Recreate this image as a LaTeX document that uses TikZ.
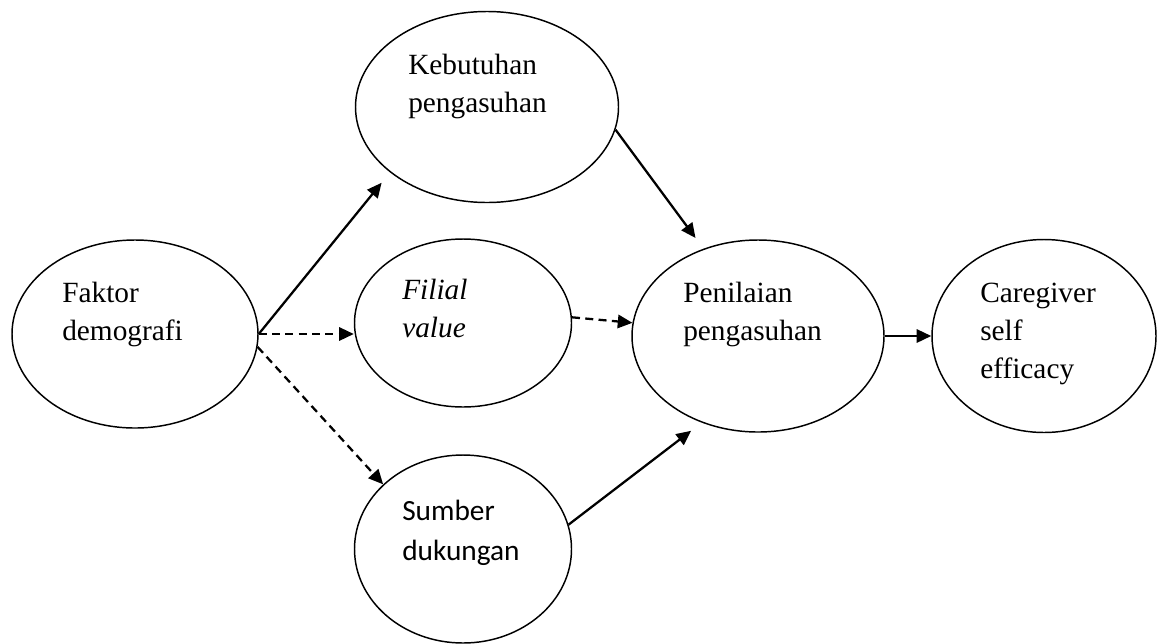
\documentclass[tikz,border=0pt]{standalone}
\usepackage{fontspec}
\setmainfont{Liberation Serif}
\newfontfamily\carlito{Carlito}
\usetikzlibrary{shapes.geometric,arrows.meta}

\begin{document}
\begin{tikzpicture}[x=0.75pt,y=0.75pt,yscale=-1,xscale=1,
  bub/.style={draw,ellipse,line width=1.1pt,inner sep=0pt},
  lbl/.style={anchor=base west,align=left,inner sep=0pt,font=\fontsize{22pt}{28.5pt}\selectfont},
  arr/.style={line width=1.7pt,-{Triangle[length=11pt,width=10pt]}},
  darr/.style={arr,dash pattern=on 6pt off 4pt}]
\useasboundingbox (0,0) rectangle (1162,643);

%Shape: Ellipse
\node [bub,minimum width=184.5pt,minimum height=141pt] (faktor) at (135,334) {};
%Shape: Ellipse
\node [bub,minimum width=197.25pt,minimum height=143.25pt] (kebutuhan) at (487,107) {};
%Shape: Ellipse
\node [bub,minimum width=162.75pt,minimum height=126pt] (filial) at (463,323) {};
%Shape: Ellipse
\node [bub,minimum width=162.75pt,minimum height=141pt] (sumber) at (463,549) {};
%Shape: Ellipse
\node [bub,minimum width=189pt,minimum height=144pt] (penilaian) at (758,336) {};
%Shape: Ellipse
\node [bub,minimum width=168pt,minimum height=144.75pt] (caregiver) at (1044,336) {};

% Text Node (base = last line)
\node [lbl] (tfaktor) at (62,340) {Faktor\\demografi};
% Text Node
\node [lbl] (tkebutuhan) at (408,112) {Kebutuhan\\pengasuhan};
% Text Node
\node [lbl] (tfilial) at (402,337) {\itshape Filial\\\itshape value};
% Text Node
\node [lbl,font=\carlito\fontsize{22pt}{30pt}\selectfont] (tsumber) at (402,560) {Sumber\\dukungan};
% Text Node
\node [lbl] (tpenilaian) at (683,340) {Penilaian\\pengasuhan};
% Text Node
\node [lbl] (tcaregiver) at (980,378) {Caregiver\\self\\efficacy};

%Straight Lines
\draw [arr,shorten >=10pt] (faktor.east) -- (kebutuhan.214);
\draw [darr] (faktor.east) -- (faktor.east -| filial.west);
\draw [darr] (faktor.-6) -- (sumber.141);
\draw [arr,shorten >=10pt] (kebutuhan.-10) -- (penilaian.122);
\draw [darr] (filial.3) -- (penilaian.174);
\draw [arr,shorten >=10pt] (sumber.13) -- (penilaian.237);
\draw [arr] (penilaian.east) -- (caregiver.west);

\end{tikzpicture}
\end{document}
